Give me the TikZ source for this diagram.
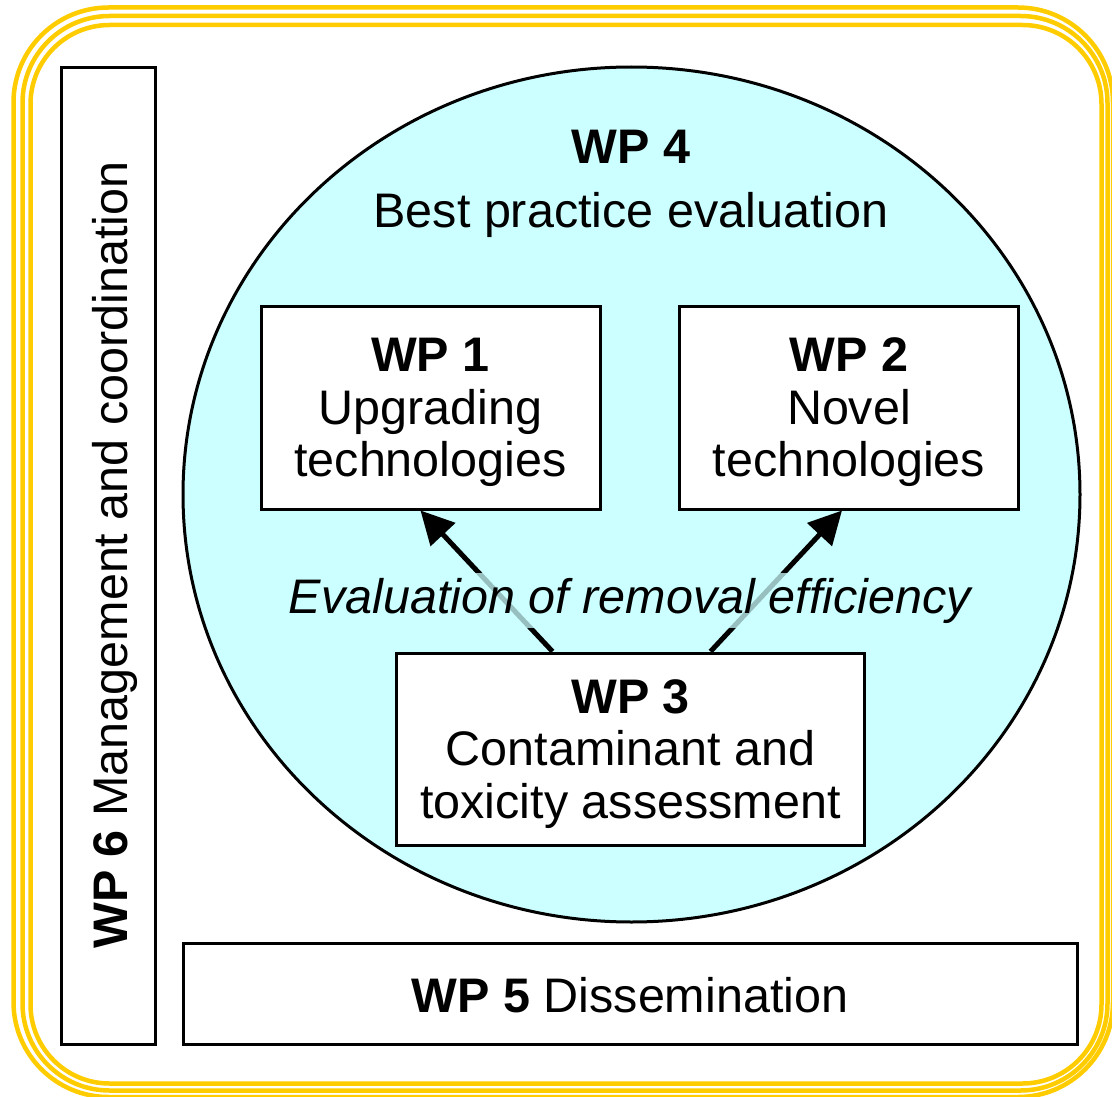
\documentclass[tikz,border=0pt]{standalone}
\usepackage{fontspec}
\setmainfont{Liberation Sans}
\usetikzlibrary{shapes.geometric,arrows.meta}
\definecolor{wpyellow}{HTML}{FFCC00}
\definecolor{wpcyan}{HTML}{CCFFFF}
\newcommand\wpsize{\fontsize{48.5}{52.5}\selectfont}
\begin{document}
\begin{tikzpicture}[x=1pt,y=-1pt,font=\wpsize,
    wpbox/.style={draw,line width=3pt,fill=white,align=center,inner sep=0pt,text depth=0pt},
    wparrow/.style={line width=5pt,-{Triangle[length=33pt,width=33pt]}}]
    \useasboundingbox (0,0) rectangle (1112,1097);
    % yellow frame
    \draw[wpyellow,line width=4.5pt,rounded corners=95pt] (13.5,7.5) rectangle (1113,1097);
    \draw[wpyellow,line width=4.5pt,rounded corners=87pt] (22.5,16) rectangle (1107.5,1090.5);
    \draw[wpyellow,line width=4.5pt,rounded corners=79pt] (30.5,25) rectangle (1101.5,1083.5);
    % WP 6 and WP 5
    \node[wpbox,minimum width=94pt,minimum height=977pt] (wp6) at (108.5,556) {};
    \node[rotate=90,anchor=base] (wp6text) at (127,555) {\textbf{WP 6} Management and coordination};
    \node[wpbox,minimum width=894pt,minimum height=101pt] (wp5) at (630,993.5) {};
    \node[anchor=base] (wp5text) at (630,1012) {\textbf{WP 5} Dissemination};
    % WP 4 circle
    \node[ellipse,draw,line width=3pt,fill=wpcyan,inner sep=0pt,minimum width=897pt,minimum height=855pt] (wp4) at (631.5,494.5) {};
    \node[anchor=base] (wp4title) at (631,164) {\textbf{WP 4}};
    \node[anchor=base] (wp4text) at (631,228) {Best practice evaluation};
    % work packages inside
    \node[wpbox,minimum width=339pt,minimum height=203pt] (wp1) at (430.5,407.5) {\textbf{WP 1}\\Upgrading\\technologies};
    \node[wpbox,minimum width=339pt,minimum height=203pt] (wp2) at (849,407.5) {\textbf{WP 2}\\Novel\\technologies};
    \node[wpbox,minimum width=468pt,minimum height=192pt] (wp3) at (630.5,749) {\textbf{WP 3}\\Contaminant and\\toxicity assessment};
    \draw[wparrow] ([xshift=-78pt]wp3.north) -- ([xshift=-10pt]wp1.south);
    \draw[wparrow] ([xshift=80pt]wp3.north) -- ([xshift=-7pt]wp2.south);
    \node[anchor=base,fill=wpcyan,fill opacity=0.75,text opacity=1,inner sep=5pt] (efficiency) at (630,613) {\itshape Evaluation of removal efficiency};
\end{tikzpicture}
\end{document}
